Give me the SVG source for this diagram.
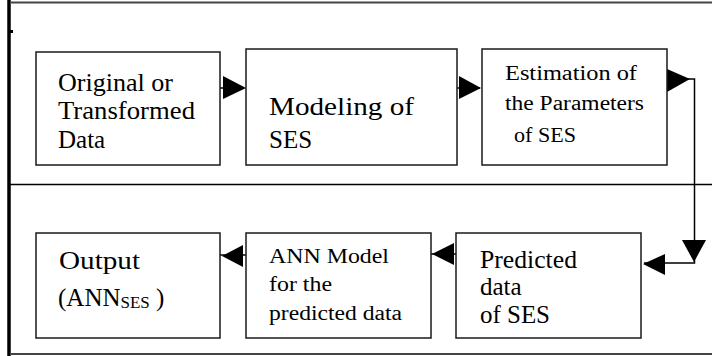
<svg xmlns="http://www.w3.org/2000/svg" width="712" height="356" viewBox="0 0 712 356" font-family="Liberation Serif, Times New Roman, DejaVu Serif, serif">
<style>
.box{fill:#fff;stroke:#1a1a1a;stroke-width:1.5}
.t{fill:#000;font-size:25px}
.s{font-size:20px}
.ln{fill:none;stroke:#000;stroke-width:1.5}
.hd{fill:#000}
</style>
<rect width="712" height="356" fill="#fff"/>
<g id="frame">
<line x1="9" y1="0" x2="9" y2="356" stroke="#000" stroke-width="3.5"/>
<line x1="10" y1="2.5" x2="712" y2="2.5" stroke="#444" stroke-width="2"/>
<line x1="10" y1="184.5" x2="712" y2="184.5" stroke="#000" stroke-width="1.5"/>
<line x1="10" y1="354" x2="712" y2="354" stroke="#444" stroke-width="2"/>
<rect x="10" y="30" width="3" height="3" fill="#000"/>
</g>
<g id="connectors">
<line class="ln" x1="220" y1="88" x2="244" y2="88"/>
<polygon class="hd" points="223,76 246,88 223,99"/>
<line class="ln" x1="457" y1="88" x2="480" y2="88"/>
<polygon class="hd" points="459,76 481,88 459,99"/>
<path class="ln" d="M667,79 H694.5 V263 H644"/>
<polygon class="hd" points="667,69 690,79 667,92"/>
<polygon class="hd" points="682,240 706,240 694,262"/>
<polygon class="hd" points="665,254 643,264 665,275"/>
<line class="ln" x1="431" y1="254" x2="456" y2="254"/>
<polygon class="hd" points="454,243 432,254 454,265"/>
<line class="ln" x1="220" y1="255" x2="246" y2="255"/>
<polygon class="hd" points="243,245 222,256 243,267"/>
</g>
<g id="n1">
<rect class="box" x="36" y="52" width="184" height="113"/>
<text class="t" x="58" y="91" textLength="115" lengthAdjust="spacingAndGlyphs">Original or</text>
<text class="t" x="58" y="119" textLength="137" lengthAdjust="spacingAndGlyphs">Transformed</text>
<text class="t" x="58" y="148">Data</text>
</g>
<g id="n2">
<rect class="box" x="246" y="49" width="211" height="116"/>
<text class="t" x="269" y="115" textLength="145" lengthAdjust="spacingAndGlyphs">Modeling of</text>
<text class="t" x="269" y="148">SES</text>
</g>
<g id="n3">
<rect class="box" x="482" y="49" width="185" height="116"/>
<text class="t s" x="505" y="80" textLength="132" lengthAdjust="spacingAndGlyphs">Estimation of</text>
<text class="t s" x="505" y="110" textLength="139" lengthAdjust="spacingAndGlyphs">the Parameters</text>
<text class="t s" x="514" y="142" textLength="62" lengthAdjust="spacingAndGlyphs">of SES</text>
</g>
<g id="n4">
<rect class="box" x="36" y="233" width="184" height="105"/>
<text class="t" x="59" y="269" textLength="81" lengthAdjust="spacingAndGlyphs">Output</text>
<text class="t" x="58" y="306">(ANN<tspan font-size="17" dy="2">SES</tspan><tspan dy="-2"> )</tspan></text>
</g>
<g id="n5">
<rect class="box" x="246" y="233" width="185" height="105"/>
<text class="t s" x="269" y="263" textLength="120" lengthAdjust="spacingAndGlyphs">ANN Model</text>
<text class="t s" x="269" y="291" textLength="63" lengthAdjust="spacingAndGlyphs">for the</text>
<text class="t s" x="269" y="320" textLength="133" lengthAdjust="spacingAndGlyphs">predicted data</text>
</g>
<g id="n6">
<rect class="box" x="456" y="233" width="185" height="105"/>
<text class="t" x="480" y="268" textLength="97" lengthAdjust="spacingAndGlyphs">Predicted</text>
<text class="t" x="480" y="295">data</text>
<text class="t" x="480" y="323" textLength="70" lengthAdjust="spacingAndGlyphs">of SES</text>
</g>
</svg>
